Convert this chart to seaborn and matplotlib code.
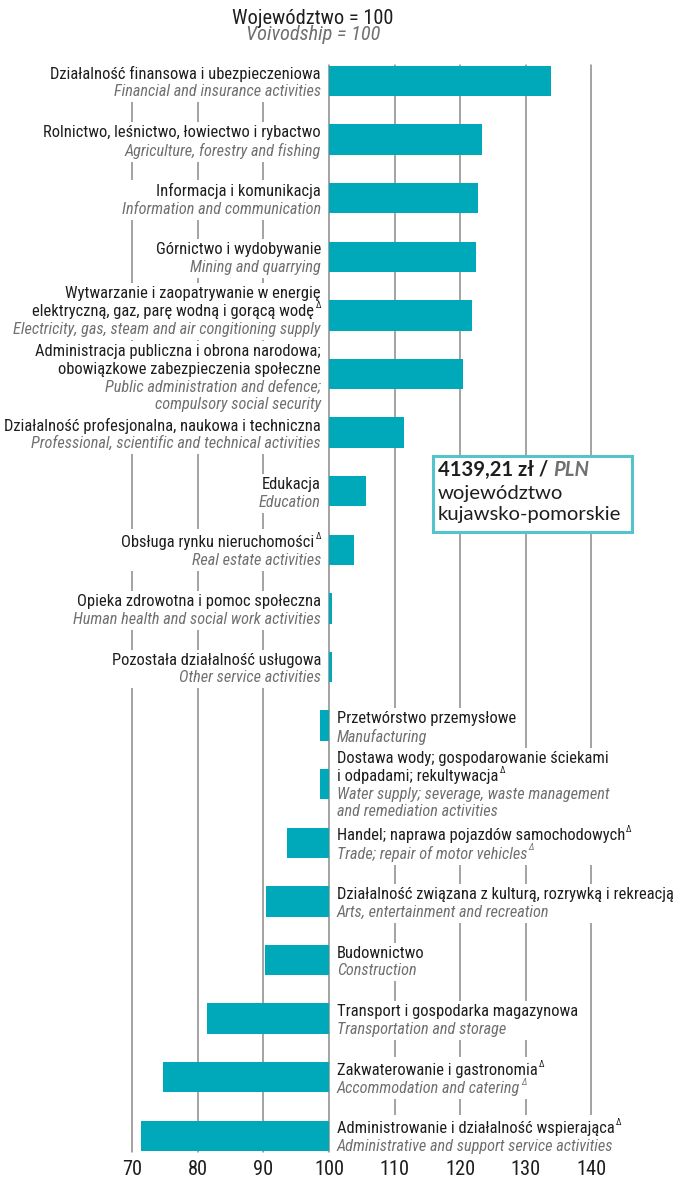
import os
import matplotlib
matplotlib.use("Agg")
import matplotlib.pyplot as plt
import seaborn as sns
import pandas as pd
from matplotlib.patches import Rectangle
from matplotlib.transforms import Bbox
from matplotlib import font_manager as fm
from matplotlib.font_manager import FontProperties

MARK = "Δ"  # footnote marker, drawn as small superscript

labels_pl = [
    ["Działalność finansowa i ubezpieczeniowa"],
    ["Rolnictwo, leśnictwo, łowiectwo i rybactwo"],
    ["Informacja i komunikacja"],
    ["Górnictwo i wydobywanie"],
    ["Wytwarzanie i zaopatrywanie w energię", "elektryczną, gaz, parę wodną i gorącą wodę" + MARK],
    ["Administracja publiczna i obrona narodowa;", "obowiązkowe zabezpieczenia społeczne"],
    ["Działalność profesjonalna, naukowa i techniczna"],
    ["Edukacja"],
    ["Obsługa rynku nieruchomości" + MARK],
    ["Opieka zdrowotna i pomoc społeczna"],
    ["Pozostała działalność usługowa"],
    ["Przetwórstwo przemysłowe"],
    ["Dostawa wody; gospodarowanie ściekami", "i odpadami; rekultywacja" + MARK],
    ["Handel; naprawa pojazdów samochodowych" + MARK],
    ["Działalność związana z kulturą, rozrywką i rekreacją"],
    ["Budownictwo"],
    ["Transport i gospodarka magazynowa"],
    ["Zakwaterowanie i gastronomia" + MARK],
    ["Administrowanie i działalność wspierająca" + MARK],
]
labels_en = [
    ["Financial and insurance activities"],
    ["Agriculture, forestry and fishing"],
    ["Information and communication"],
    ["Mining and quarrying"],
    ["Electricity, gas, steam and air congitioning supply"],
    ["Public administration and defence;", "compulsory social security"],
    ["Professional, scientific and technical activities"],
    ["Education"],
    ["Real estate activities"],
    ["Human health and social work activities"],
    ["Other service activities"],
    ["Manufacturing"],
    ["Water supply; severage, waste management", "and remediation activities"],
    ["Trade; repair of motor vehicles" + MARK],
    ["Arts, entertainment and recreation"],
    ["Construction"],
    ["Transportation and storage"],
    ["Accommodation and catering" + MARK],
    ["Administrative and support service activities"],
]
values = [133.8, 123.3, 122.7, 122.4, 121.8, 120.4, 111.4, 105.6, 103.8,
          100.5, 100.5, 98.6, 98.6, 93.6, 90.4, 90.2, 81.4, 74.7, 71.3]
ticks = [70, 80, 90, 100, 110, 120, 130, 140]
base = 100
header_pl = "Województwo = 100"
header_en = "Voivodship = 100"
box_value = "4139,21 zł / "
box_unit = "PLN"
box_lines = ["województwo", "kujawsko-pomorskie"]

BAR = "#00A9BA"
GRID = "#8a8a8a"
DARK = "#1e1e1e"
GREY = "#707070"
BOXC = "#55C3CE"

sns.set_theme(style="white")
plt.rcParams["font.family"] = ["DejaVu Sans"]


def _w(f):
    w = f.weight
    if isinstance(w, str):
        w = fm.weight_dict.get(w, 400)
    return w


def pick_condensed(italic):
    prefs = ["roboto condensed", "open sans condensed", "noto sans", "dejavu sans",
             "liberation sans narrow", "open sans", "roboto"]
    best, bscore = None, None
    for f in fm.fontManager.ttflist:
        nm = f.name.lower()
        fn = os.path.basename(f.fname).lower()
        cond = (f.stretch in ("condensed", "semi-condensed", "extra-condensed")
                or "condensed" in nm or "narrow" in nm
                or "condensed" in fn or "narrow" in fn)
        if not cond:
            continue
        if "cjk" in nm or "mono" in nm or "mono" in fn or "serif" in nm:
            continue
        it = f.style in ("italic", "oblique") or "italic" in fn or "oblique" in fn
        if it != italic:
            continue
        score = abs(_w(f) - 400)
        if "semi" in fn or "semi" in f.stretch:
            score += 60
        if "extra" in fn or "extra" in f.stretch or "ultra" in fn:
            score += 120
        rank = len(prefs)
        for k, p in enumerate(prefs):
            if nm.startswith(p):
                rank = k
                break
        score += rank * 5
        if bscore is None or score < bscore:
            best, bscore = f.fname, score
    return best


reg_file = pick_condensed(False)
ita_file = pick_condensed(True) or reg_file


def fp(italic=False, size=10):
    f = ita_file if italic else reg_file
    if f:
        return FontProperties(fname=f, size=size)
    return FontProperties(family="DejaVu Sans", style="italic" if italic else "normal",
                          size=size)


W, H = 675, 1183
fig = plt.figure(figsize=(W / 100, H / 100), dpi=100)
ax = fig.add_axes([0, 0, 1, 1])
renderer = fig.canvas.get_renderer()


def fit(text, target, italic=False, prop=None):
    p = prop if prop is not None else fp(italic, 10)
    t = fig.text(0, 0, text, fontproperties=p)
    w = t.get_window_extent(renderer).width
    t.remove()
    return p.get_size() * target / w


def width_of(text, prop):
    t = fig.text(0, 0, text, fontproperties=prop)
    w = t.get_window_extent(renderer).width
    t.remove()
    return w


fs_pl = fit(labels_pl[0][0], 268)
fs_en = fit(labels_en[0][0], 208, italic=True)
fs_hd = fit(header_pl, 160)
fs_mk = fs_pl * 0.55

px_per_unit = 6.56
x0_px = 329
xmin = base - x0_px / px_per_unit
xmax = base + (W - x0_px) / px_per_unit
row0, rowh = 81, 58.6
ymin_i = -row0 / rowh
ymax_i = (H - row0) / rowh


def py(p):
    return (p - row0) / rowh


df = pd.DataFrame({
    "cat": [str(i) for i in range(len(values))],
    "diff": [v - base for v in values],
})
sns.barplot(data=df, x="diff", y="cat", orient="h", color=BAR, saturation=1,
            width=0.52, left=base, ax=ax, zorder=2, linewidth=0)

ax.set_xlim(xmin, xmax)
ax.set_ylim(ymax_i, ymin_i)
ax.axis("off")

for t in ticks:
    ax.plot([t, t], [py(65), py(1152)], color=GRID, lw=1.1, zorder=1)
    ax.text(t, py(1170), str(t), ha="center", va="center",
            fontproperties=fp(False, fs_hd), color=DARK)

lh = 17.8  # px line spacing
block_shift = {4: -4, 5: 4, 12: 1}
mk_w = {False: width_of(MARK, fp(False, fs_mk)), True: width_of(MARK, fp(True, fs_mk))}
blocks = []
for i, v in enumerate(values):
    lines = [(s, DARK, False) for s in labels_pl[i]] + \
            [(s, GREY, True) for s in labels_en[i]]
    n = len(lines)
    right = v >= base
    if right:
        xt, ha = base - 8 / px_per_unit, "right"
    else:
        xt, ha = base + 8 / px_per_unit, "left"
    center = block_shift.get(i, 2)
    texts = []
    for k, (s, c, it) in enumerate(lines):
        off = center + (k - (n - 1) / 2) * lh
        has_mk = s.endswith(MARK)
        body = s[:-len(MARK)] if has_mk else s
        prop = fp(it, fs_en if it else fs_pl)
        dx = -(mk_w[it] + 1) if (has_mk and right) else 0
        t = ax.annotate(body, xy=(xt, i), xytext=(dx, -off), textcoords="offset pixels",
                        ha=ha, va="center", color=c, fontproperties=prop, zorder=4)
        texts.append(t)
        if has_mk:
            if right:
                mx = 0
            else:
                mx = t.get_window_extent(renderer).width + 1
            m = ax.annotate(MARK, xy=(xt, i), xytext=(mx, -off + 6),
                            textcoords="offset pixels", ha=ha, va="center",
                            color=c, fontproperties=fp(it, fs_mk), zorder=4)
            texts.append(m)
    blocks.append(texts)

fig.canvas.draw()
inv = ax.transData.inverted()
for texts in blocks:
    bb = Bbox.union([t.get_window_extent(renderer) for t in texts])
    (dx0, dy0), (dx1, dy1) = inv.transform([(bb.x0 - 3, bb.y0 - 3), (bb.x1 + 3, bb.y1 + 3)])
    ax.add_patch(Rectangle((dx0, dy0), dx1 - dx0, dy1 - dy0, facecolor="white",
                           edgecolor="none", zorder=3))

# header
fig.text(313 / W, 1 - 18 / H, header_pl, ha="center", va="center",
         fontproperties=fp(False, fs_hd), color=DARK)
fig.text(313 / W, 1 - 35 / H, header_en, ha="center", va="center",
         fontproperties=fp(True, fs_hd), color=GREY)

# info box
bx0, by0, bx1, by1 = 433, 456, 632, 532
ax.add_patch(Rectangle((bx0 / W, 1 - by1 / H), (bx1 - bx0) / W, (by1 - by0) / H,
                       transform=fig.transFigure, facecolor="white",
                       edgecolor=BOXC, lw=2.2, zorder=5))
wide = ["Lato", "DejaVu Sans"]
fs_box = fit(box_lines[1], 185, prop=FontProperties(family=wide, size=10))
t1 = fig.text(438 / W, 1 - 470 / H, box_value, ha="left", va="center",
              fontsize=fs_box, weight="bold", color=DARK, family=wide, zorder=6)
fig.canvas.draw()
e = t1.get_window_extent(renderer)
fig.text(e.x1 / W, 1 - 470 / H, box_unit, ha="left", va="center",
         fontsize=fs_box, weight="bold", style="italic", color=GREY, family=wide, zorder=6)
for k, s in enumerate(box_lines):
    fig.text(438 / W, 1 - (493 + 22 * k) / H, s, ha="left", va="center",
             fontsize=fs_box, color=DARK, family=wide, zorder=6)

fig.savefig("out.png", dpi=100)
